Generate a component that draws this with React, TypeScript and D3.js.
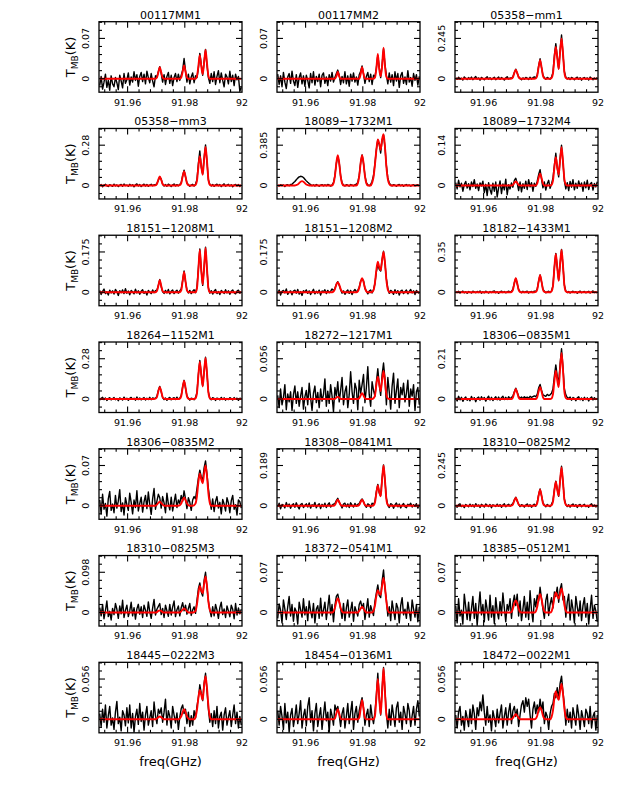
import React from "react";
import * as d3 from "d3";

// ---------- data ----------
const titles = [
  "00117MM1", "00117MM2", "05358−mm1",
  "05358−mm3", "18089−1732M1", "18089−1732M4",
  "18151−1208M1", "18151−1208M2", "18182−1433M1",
  "18264−1152M1", "18272−1217M1", "18306−0835M1",
  "18306−0835M2", "18308−0841M1", "18310−0825M2",
  "18310−0825M3", "18372−0541M1", "18385−0512M1",
  "18445−0222M3", "18454−0136M1", "18472−0022M1",
];
const tickLabels = [
  "0.07", "0.07", "0.245", "0.28", "0.385", "0.14", "0.175", "0.175", "0.35",
  "0.28", "0.056", "0.21", "0.07", "0.189", "0.245", "0.098", "0.07", "0.07",
  "0.056", "0.056", "0.056",
];
const xTickLabels = ["91.96", "91.98", "92"];
const xTickValues = [91.96, 91.98, 92.0];

// channel grid (GHz)
const freqStart = 91.95;
const freqEnd = 92.0;
const nChan = 100;

// observed spectra, mK, one value per channel
const obs1 = [-12,4,-18,-6,8,-15,-3,-20,5,-9,-14,2,-7,-19,6,-4,-16,9,-8,-2,10,-11,3,-6,12,-3,7,-13,4,11,-5,8,-9,13,2,-7,9,-4,-14,5,3,12,21,9,-6,7,-10,4,11,-8,6,-12,2,9,-5,8,-3,6,15,35,14,-6,8,-9,3,10,-7,5,2,18,44,25,6,30,51,24,2,-8,9,-5,12,-10,4,14,-7,10,-3,-14,8,3,-9,13,-5,6,-12,8,-2,4,-22,-15];
const obs2 = [8,-10,5,-14,11,-6,-17,3,9,-8,13,-4,-12,7,-15,2,10,-9,5,-13,6,-3,-16,9,-7,12,-11,4,-5,8,-14,6,10,-8,3,-12,7,-4,11,-6,2,9,15,6,-10,4,-7,12,-9,5,-13,8,-4,10,-6,3,-11,7,13,22,9,-8,4,11,-5,8,-10,6,3,19,40,20,2,24,52,25,6,-9,10,-6,7,-12,12,-4,9,-15,5,11,-8,3,-10,14,-6,2,-13,9,-3,7,-11,4];
const obs3 = [6,-4,9,-2,3,-8,11,2,-5,7,-3,10,-6,4,13,-2,5,-9,8,1,-7,4,12,-3,6,-5,2,9,-6,3,10,-4,7,1,-8,5,12,-2,4,3,12,38,58,33,12,2,-6,5,-3,8,3,-5,9,-2,6,11,4,22,78,121,68,22,6,-4,8,2,-3,9,38,140,213,132,62,175,266,150,42,10,-2,6,-5,8,2,-7,4,9,-4,6,-9,3,7,-3,5,-8,10,1,-6,4,-2,8];
const obs4 = [-4,6,-9,3,8,-2,-7,5,1,-6,9,-3,4,-8,2,7,-5,10,-1,3,-6,8,-2,5,-9,4,11,-3,6,-7,2,9,-4,7,-6,3,8,-2,5,4,14,37,58,44,8,-3,6,-5,9,2,-7,4,10,-3,6,-2,7,20,68,106,60,18,5,-6,3,8,-4,10,40,152,240,128,80,190,282,165,38,9,-3,7,-6,4,9,-2,6,-8,3,11,-5,2,8,-4,5,-9,3,7,-3,6,-7,4];
const obs5 = [3,-6,8,-2,5,-9,4,7,-3,10,12,25,38,55,70,82,88,85,76,60,44,30,18,8,-3,6,-5,9,2,-7,4,8,-4,6,-2,10,3,-6,5,28,95,210,280,218,92,25,4,-5,8,2,-6,9,3,-4,7,12,30,96,220,292,212,95,28,6,-3,10,40,95,210,345,435,392,310,430,485,365,190,72,24,6,-4,8,2,-7,5,10,-3,6,-8,4,9,-2,5,-6,3,7,-4,2,8,-5];
const obs6 = [10,-12,18,-5,8,-20,3,14,-9,6,-15,12,-4,20,-10,5,-18,9,-2,15,-25,4,-35,10,-14,-30,8,-20,12,-40,-8,16,-28,5,-15,22,-32,3,-12,9,-6,18,25,8,-18,12,-22,6,-10,15,-14,20,-5,10,-20,8,-3,15,38,55,22,-8,12,-16,6,18,-10,5,25,70,112,60,30,95,140,80,15,-12,10,-18,14,-6,20,-15,8,-10,16,-4,9,-20,12,-8,18,-14,5,10,-16,7,-5,13];
const obs7 = [8,-10,4,14,-6,2,-12,9,-3,6,-8,12,3,-14,7,-2,10,-6,15,-4,5,-11,8,2,-7,13,-3,6,-9,4,11,-5,3,-12,8,1,-6,10,-2,7,9,30,55,24,2,-5,8,-3,12,-7,4,10,-6,3,9,-4,6,15,52,92,45,10,-3,8,-6,4,11,-2,22,104,188,95,30,110,196,100,20,-4,7,-8,5,12,-6,3,-10,8,2,-5,11,-3,6,-9,4,10,-2,-7,5,9,-4,2];
const obs8 = [-6,10,-12,4,8,-3,14,-9,2,6,-11,5,9,-4,12,-8,3,-14,7,1,10,-5,6,-10,2,13,-7,4,-3,9,-12,6,2,11,-6,8,-2,5,14,7,16,35,46,30,12,-4,6,-9,3,10,-5,8,-10,4,12,2,8,22,48,58,50,16,6,-7,5,10,-3,12,38,90,122,100,92,142,178,125,58,18,-5,8,3,-9,11,-4,7,-12,5,9,-6,2,10,-7,4,12,-3,6,-10,8,1,-5];
const obs9 = [5,-3,8,-7,2,10,-5,4,-9,6,1,-6,9,3,-4,7,-2,11,-8,4,-5,9,2,-7,6,-3,8,12,-4,5,-8,3,10,-2,6,-5,4,9,2,8,26,82,120,74,24,6,-4,8,-2,5,9,-6,3,7,-3,10,6,28,96,150,90,28,8,-5,4,9,-2,12,58,218,338,215,104,248,372,230,62,10,-3,6,-7,4,9,-2,5,-8,3,10,-4,2,7,-5,3,8,-6,4,11,-3,2,-7];
const obs10 = [-8,5,12,-4,7,-10,3,9,-6,1,10,-5,4,-12,8,2,-7,13,-3,6,-9,4,11,-2,5,-8,14,-4,7,-6,3,10,-7,5,-3,12,-5,8,4,6,18,60,88,50,10,-4,7,-9,5,11,-6,4,9,-3,13,-2,6,24,84,130,76,20,5,-8,6,3,-5,10,45,170,268,168,92,196,290,178,50,4,-6,9,5,-10,7,2,-6,11,-3,8,-8,4,-4,9,3,-7,10,-2,6,-9,5,2];
const obs11 = [5,-12,14,-8,2,20,-15,7,-4,10,-16,6,18,-6,10,-10,4,16,-14,3,12,-8,22,2,-16,8,18,-5,9,-12,14,-3,6,28,-10,11,-6,20,4,-18,16,4,24,-4,12,30,-8,10,18,-12,6,38,10,-6,22,14,-15,26,8,20,34,-5,16,45,6,-10,24,12,4,24,42,20,5,34,50,28,-8,30,10,-14,18,36,-6,12,28,-12,16,6,22,-4,8,26,-10,14,4,20,-16,10,16,-8];
const obs12 = [6,-10,14,-4,9,-12,3,11,-7,2,-9,13,-3,7,-14,5,10,-6,12,-2,8,-11,4,15,-5,9,-8,3,12,-4,10,-6,7,14,-3,9,-2,12,2,8,16,38,56,36,14,4,10,2,12,6,10,4,14,8,12,16,12,24,58,76,46,22,18,14,24,18,22,30,52,120,178,118,80,185,262,168,52,22,8,4,10,-6,8,3,-9,6,12,-4,5,-8,9,-3,6,-10,4,11,-5,7,-2,3];
const obs13 = [10,-14,20,-6,4,-18,12,25,-8,3,-12,18,-4,8,28,-10,5,-16,14,2,-8,22,6,-14,10,-3,26,-9,4,15,-11,7,18,-5,24,2,-15,12,30,-6,8,20,14,-4,16,5,-12,22,3,-7,15,-9,6,20,-3,10,4,18,8,26,12,-5,14,6,-8,10,16,12,30,48,62,50,44,66,78,55,30,10,-6,12,-10,8,16,-4,6,-14,11,3,-9,14,5,-12,9,18,-6,2,-16,10,7,-4];
const obs14 = [-5,12,-14,6,3,-10,15,-4,8,-12,4,10,-7,14,-3,-15,6,11,-8,2,9,-6,13,-11,5,-2,16,-9,3,10,-13,7,-4,12,-8,5,14,-6,2,8,10,24,35,16,6,-10,8,12,-5,9,-8,14,3,-6,11,-2,7,10,24,32,20,2,-7,9,4,-9,12,6,20,68,100,60,48,130,192,118,36,2,-8,10,6,-12,4,13,-5,8,-10,3,11,-4,-9,7,2,12,-6,5,-3,10,-11,6];
const obs15 = [4,-9,7,12,-5,3,-11,8,2,-6,10,-4,6,-8,13,-2,5,-10,9,1,-7,11,3,-5,8,-12,6,2,-4,10,-3,7,-9,5,12,-6,4,9,-2,6,14,36,52,28,10,-5,7,2,-8,5,11,-4,6,-9,3,10,-3,22,68,102,60,20,4,-6,8,2,-5,9,30,98,150,102,58,158,240,145,40,8,-5,6,-8,5,11,-3,7,-10,4,8,-6,3,9,-5,2,-9,6,12,-4,5,-7,3];
const obs16 = [12,-8,20,-15,5,28,-10,3,-18,10,-5,22,8,-14,16,-3,30,-12,6,18,-10,4,25,-8,12,-16,9,20,-4,14,-12,18,6,-9,26,2,-14,11,32,-6,8,15,22,-5,10,-12,18,4,-9,20,-6,14,28,-10,7,16,-8,12,24,4,18,-4,10,22,-7,6,14,-2,30,58,72,50,40,78,98,62,28,6,-10,14,-8,20,6,-14,12,25,-5,9,-12,16,4,-10,18,8,-15,22,-6,11,-3,8];
const obs17 = [-10,15,4,-18,22,6,-12,10,28,-6,14,-15,8,2,-20,18,5,-8,24,-4,10,-14,20,3,-9,16,-18,6,12,-10,25,-6,4,18,-12,8,30,-4,14,-16,12,28,32,20,6,-10,16,-14,8,22,-8,4,18,-15,10,2,-6,14,20,8,16,-12,6,24,-8,12,3,-5,20,34,48,30,26,55,74,42,22,-6,10,-14,20,4,-12,16,8,-18,12,26,-4,6,-10,18,2,-14,22,6,-8,14,-16,10];
const obs18 = [12,-18,24,-6,4,-20,32,10,-12,18,-14,6,28,-10,16,-22,8,36,-4,14,-16,22,5,-13,30,-8,12,-19,26,2,-11,19,-5,34,8,-16,14,4,24,-10,16,30,12,32,-6,20,-14,6,28,-8,18,-12,38,4,-16,24,10,30,20,44,24,6,-10,21,32,-5,14,26,8,36,28,44,18,40,50,22,28,-8,18,32,-13,22,6,-18,28,10,-6,20,-14,12,26,-8,16,-20,6,30,-10,13,3,-16];
const obs19 = [8,-10,14,-4,20,-12,5,18,-8,2,-14,10,25,-6,3,-16,12,6,-9,16,-5,20,-12,8,-18,4,14,-7,22,-3,10,-15,6,18,-8,2,12,-10,24,5,-6,14,8,16,-4,10,28,-8,12,4,-12,18,6,-5,9,-14,3,15,20,8,14,-6,10,-10,5,-8,12,2,18,30,48,36,26,50,64,40,14,-4,8,-10,12,-6,18,-12,4,10,-15,6,16,-8,3,12,-10,6,20,-6,10,-12,4,-8];
const obs20 = [12,-8,18,4,-14,22,-5,10,-18,6,15,-10,3,20,-6,8,26,-12,5,14,-9,18,30,-4,12,-16,8,22,-10,4,16,-14,6,24,-2,10,-18,14,5,-8,20,12,18,6,-10,8,16,-12,4,22,-6,10,25,-14,8,18,-4,12,22,30,16,-8,6,14,-10,20,4,-6,10,34,64,28,6,42,72,40,8,-12,14,-8,20,6,-10,16,24,-4,10,-14,18,8,-6,22,12,-10,5,18,-8,14,26,4];
const obs21 = [6,-12,10,18,-8,4,-15,12,2,-10,14,-6,20,8,-14,16,5,24,12,34,10,-8,18,-4,6,-16,12,2,-10,14,-5,8,20,-12,4,16,-8,10,22,-6,12,18,4,14,-10,6,20,26,10,30,18,28,6,-12,14,24,8,20,10,28,12,24,-6,10,4,-14,8,18,22,36,30,44,28,50,60,38,20,-8,14,-4,10,-12,16,4,-8,20,6,-14,12,2,-10,14,8,-6,18,-12,4,10,-15,6];

// fitted model, mK, one value per channel
const fit1 = [0,0,0,0,0,0,0,0,0,0, 0,0,0,0,0,0,0,0,0,0, 0,0,0,0,0,0,0,0,0,0, 0,0,0,0,0,0,0,0,0,0, 2,11,20,11,2,0,0,0,0,0, 0,0,0,0,0,0,0,2,12,23, 12,2,0,0,0,0,0,0,4,22, 41,22,8,27,50,27,5,0,0,0, 0,0,0,0,0,0,0,0,0,0, 0,0,0,0,0,0,0,0,0,0];
const fit2 = [0,0,0,0,0,0,0,0,0,0, 0,0,0,0,0,0,0,0,0,0, 0,0,0,0,0,0,0,0,0,0, 0,0,0,0,0,0,0,0,0,0, 0,4,12,4,0,0,0,0,0,0, 0,0,0,0,0,0,0,0,8,20, 8,0,0,0,0,0,0,0,2,18, 43,16,4,22,54,22,3,0,0,0, 0,0,0,0,0,0,0,0,0,0, 0,0,0,0,0,0,0,0,0,0];
const fit3 = [0,0,0,0,0,0,0,0,0,0, 0,0,0,0,0,0,0,0,0,0, 0,0,0,0,0,0,0,0,0,0, 0,0,0,0,0,0,0,0,0,1, 9,35,55,35,9,1,0,0,0,0, 0,0,0,0,0,0,2,18,72,112, 72,18,2,0,0,0,0,4,31,124, 193,129,58,161,245,157,39,5,0,0, 0,0,0,0,0,0,0,0,0,0, 0,0,0,0,0,0,0,0,0,0];
const fit4 = [0,0,0,0,0,0,0,0,0,0, 0,0,0,0,0,0,0,0,0,0, 0,0,0,0,0,0,0,0,0,0, 0,0,0,0,0,0,0,0,0,1, 10,40,63,40,10,1,0,0,0,0, 0,0,0,0,0,0,2,16,63,98, 63,16,2,0,0,0,0,4,32,130, 203,135,75,176,268,172,43,5,0,0, 0,0,0,0,0,0,0,0,0,0, 0,0,0,0,0,0,0,0,0,0];
const fit5 = [0,0,0,0,0,0,0,0,0,0, 0,0,0,4,10,23,36,42,36,23, 10,4,0,0,0,0,0,0,0,0, 0,0,0,0,0,0,0,0,0,20, 90,214,289,214,90,20,0,0,0,0, 0,0,0,0,0,0,20,90,214,289, 214,90,20,0,0,0,25,80,200,340, 440,400,340,440,490,370,180,60,15,0, 0,0,0,0,0,0,0,0,0,0, 0,0,0,0,0,0,0,0,0,0];
const fit6 = [0,0,0,0,0,0,0,0,0,0, 0,0,0,0,0,0,0,0,0,0, 0,0,0,0,0,0,0,0,0,0, 0,0,0,0,0,0,0,0,0,0, 2,9,14,9,2,0,0,0,0,0, 0,0,0,0,0,0,0,7,27,42, 27,7,0,0,0,0,0,2,16,63, 98,66,37,87,133,85,21,3,0,0, 0,0,0,0,0,0,0,0,0,0, 0,0,0,0,0,0,0,0,0,0];
const fit7 = [0,0,0,0,0,0,0,0,0,0, 0,0,0,0,0,0,0,0,0,0, 0,0,0,0,0,0,0,0,0,0, 0,0,0,0,0,0,0,0,0,0, 5,28,52,28,5,0,0,0,0,0, 0,0,0,0,0,0,0,8,48,88, 48,8,0,0,0,0,0,0,17,99, 184,99,34,104,192,104,17,0,0,0, 0,0,0,0,0,0,0,0,0,0, 0,0,0,0,0,0,0,0,0,0];
const fit8 = [0,0,0,0,0,0,0,0,0,0, 0,0,0,0,0,0,0,0,0,0, 0,0,0,0,0,0,0,0,0,0, 0,0,0,0,0,0,0,0,0,3, 14,33,44,33,14,3,0,0,0,0, 0,0,0,0,0,0,4,19,45,61, 45,19,4,0,0,0,1,9,41,97, 133,109,95,139,175,130,54,12,0,0, 0,0,0,0,0,0,0,0,0,0, 0,0,0,0,0,0,0,0,0,0];
const fit9 = [0,0,0,0,0,0,0,0,0,0, 0,0,0,0,0,0,0,0,0,0, 0,0,0,0,0,0,0,0,0,0, 0,0,0,0,0,0,0,0,0,2, 20,78,122,78,20,2,0,0,0,0, 0,0,0,0,0,0,3,24,94,147, 94,24,3,0,0,0,0,7,53,213, 333,220,100,243,368,236,59,7,0,0, 0,0,0,0,0,0,0,0,0,0, 0,0,0,0,0,0,0,0,0,0];
const fit10 = [0,0,0,0,0,0,0,0,0,0, 0,0,0,0,0,0,0,0,0,0, 0,0,0,0,0,0,0,0,0,0, 0,0,0,0,0,0,0,0,0,2, 13,54,84,54,13,2,0,0,0,0, 0,0,0,0,0,0,3,20,81,126, 81,20,3,0,0,0,0,5,41,165, 258,171,87,188,286,183,46,6,0,0, 0,0,0,0,0,0,0,0,0,0, 0,0,0,0,0,0,0,0,0,0];
const fit11 = [0,0,0,0,0,0,0,0,0,0, 0,0,0,0,0,0,0,0,0,0, 0,0,0,0,0,0,0,0,0,0, 0,0,0,0,0,0,0,0,0,0, 0,2,3,2,0,0,0,0,0,0, 0,0,0,0,0,0,0,1,5,8, 5,1,0,0,0,0,0,1,5,20, 31,21,11,26,39,25,6,1,0,0, 0,0,0,0,0,0,0,0,0,0, 0,0,0,0,0,0,0,0,0,0];
const fit12 = [0,0,0,0,0,0,0,0,0,0, 0,0,0,0,0,0,0,0,0,0, 0,0,0,0,0,0,0,0,0,0, 0,0,0,0,0,0,0,0,0,0, 8,33,52,33,8,0,0,0,0,0, 0,0,0,0,0,0,0,10,40,63, 40,10,0,0,0,0,0,3,24,94, 147,99,62,157,240,154,38,5,0,0, 0,0,0,0,0,0,0,0,0,0, 0,0,0,0,0,0,0,0,0,0];
const fit13 = [0,0,0,0,0,0,0,0,0,0, 0,0,0,0,0,0,0,0,0,0, 0,0,0,0,0,0,0,0,0,0, 0,0,0,0,0,0,0,0,0,0, 2,5,7,5,2,0,0,0,0,0, 0,0,0,0,0,0,1,4,10,14, 10,4,1,0,0,0,1,4,17,41, 56,46,39,56,70,52,22,5,0,0, 0,0,0,0,0,0,0,0,0,0, 0,0,0,0,0,0,0,0,0,0];
const fit14 = [0,0,0,0,0,0,0,0,0,0, 0,0,0,0,0,0,0,0,0,0, 0,0,0,0,0,0,0,0,0,0, 0,0,0,0,0,0,0,0,0,0, 4,18,28,18,4,0,0,0,0,0, 0,0,0,0,0,0,0,4,18,28, 18,4,0,0,0,0,0,2,15,61, 95,65,45,123,189,121,30,4,0,0, 0,0,0,0,0,0,0,0,0,0, 0,0,0,0,0,0,0,0,0,0];
const fit15 = [0,0,0,0,0,0,0,0,0,0, 0,0,0,0,0,0,0,0,0,0, 0,0,0,0,0,0,0,0,0,0, 0,0,0,0,0,0,0,0,0,1, 8,31,49,31,8,1,0,0,0,0, 0,0,0,0,0,0,2,16,63,98, 63,16,2,0,0,0,0,3,24,94, 147,99,61,152,233,149,37,5,0,0, 0,0,0,0,0,0,0,0,0,0, 0,0,0,0,0,0,0,0,0,0];
const fit16 = [0,0,0,0,0,0,0,0,0,0, 0,0,0,0,0,0,0,0,0,0, 0,0,0,0,0,0,0,0,0,0, 0,0,0,0,0,0,0,0,0,0, 1,4,5,4,1,0,0,0,0,0, 0,0,0,0,0,0,0,3,7,10, 7,3,0,0,0,0,1,4,20,47, 65,53,47,69,88,65,27,6,0,0, 0,0,0,0,0,0,0,0,0,0, 0,0,0,0,0,0,0,0,0,0];
const fit17 = [0,0,0,0,0,0,0,0,0,0, 0,0,0,0,0,0,0,0,0,0, 0,0,0,0,0,0,0,0,0,0, 0,0,0,0,0,0,0,0,0,2, 8,19,25,19,8,2,0,0,0,0, 0,0,0,0,0,0,0,3,7,10, 7,3,0,0,0,0,0,3,12,29, 39,33,31,47,60,44,19,4,0,0, 0,0,0,0,0,0,0,0,0,0, 0,0,0,0,0,0,0,0,0,0];
const fit18 = [0,0,0,0,0,0,0,0,0,0, 0,0,0,0,0,0,0,0,0,0, 0,0,0,0,0,0,0,0,0,0, 0,0,0,0,0,0,0,0,0,1, 7,16,21,16,7,1,0,0,0,0, 0,0,0,0,0,0,2,10,24,32, 24,10,2,0,0,0,0,2,11,26, 35,29,24,33,42,31,13,3,0,0, 0,0,0,0,0,0,0,0,0,0, 0,0,0,0,0,0,0,0,0,0];
const fit19 = [0,0,0,0,0,0,0,0,0,0, 0,0,0,0,0,0,0,0,0,0, 0,0,0,0,0,0,0,0,0,0, 0,0,0,0,0,0,0,0,0,0, 1,3,4,3,1,0,0,0,0,0, 0,0,0,0,0,0,1,4,10,14, 10,4,1,0,0,0,0,3,13,30, 41,34,27,47,60,44,19,4,0,0, 0,0,0,0,0,0,0,0,0,0, 0,0,0,0,0,0,0,0,0,0];
const fit20 = [0,0,0,0,0,0,0,0,0,0, 0,0,0,0,0,0,0,0,0,0, 0,0,0,0,0,0,0,0,0,0, 0,0,0,0,0,0,0,0,0,0, 1,8,14,8,1,0,0,0,0,0, 0,0,0,0,0,0,0,2,15,27, 15,2,0,0,0,0,0,0,5,30, 56,30,7,38,71,38,6,0,0,0, 0,0,0,0,0,0,0,0,0,0, 0,0,0,0,0,0,0,0,0,0];
const fit21 = [0,0,0,0,0,0,0,0,0,0, 0,0,0,0,0,0,0,0,0,0, 0,0,0,0,0,0,0,0,0,0, 0,0,0,0,0,0,0,0,0,0, 2,5,7,5,2,0,0,0,0,0, 0,0,0,0,0,0,1,5,13,17, 13,5,1,0,0,0,0,3,12,29, 39,32,27,39,49,36,15,3,0,0, 0,0,0,0,0,0,0,0,0,0, 0,0,0,0,0,0,0,0,0,0];

const observed = [obs1, obs2, obs3, obs4, obs5, obs6, obs7, obs8, obs9, obs10, obs11, obs12, obs13, obs14, obs15, obs16, obs17, obs18, obs19, obs20, obs21];
const fitted = [fit1, fit2, fit3, fit4, fit5, fit6, fit7, fit8, fit9, fit10, fit11, fit12, fit13, fit14, fit15, fit16, fit17, fit18, fit19, fit20, fit21];

// ---------- layout ----------
const WIDTH = 628;
const HEIGHT = 798;
const colLeft = [99, 277, 455];
const panelW = 143;
const rowTop0 = 21.7;
const rowStep = 106.77;
const panelH = 70.5;
const FONT = "DejaVu Sans, Verdana, sans-serif";

const freqs = d3.range(nChan).map((i) => freqStart + ((i + 0.5) * (freqEnd - freqStart)) / nChan);
const minorX = d3.range(12).map((k) => 91.952 + k * 0.004).filter((f) => Math.abs(f - 91.96) > 1e-6 && Math.abs(f - 91.98) > 1e-6);
const minorYFactors = [-0.2, 0.2, 0.4, 0.6, 0.8, 1.2, 1.4];

function Panel({ idx }: { idx: number }) {
  const col = idx % 3;
  const row = Math.floor(idx / 3);
  const left = colLeft[col];
  const top = rowTop0 + row * rowStep;
  const right = left + panelW;
  const bottom = top + panelH;
  const t = parseFloat(tickLabels[idx]);
  const x = d3.scaleLinear().domain([freqStart, freqEnd]).range([left, right]);
  const y = d3.scaleLinear().domain([-0.335 * t, 1.415 * t]).range([bottom, top]);
  const obsPts = observed[idx].map((v, i) => [freqs[i], v / 1000] as [number, number]);
  const fitPts = fitted[idx].map((v, i) => [freqs[i], v / 1000] as [number, number]);
  const obsLine = d3.line<[number, number]>().x((d) => x(d[0])).y((d) => y(d[1])).curve(d3.curveLinear);
  const fitLine = d3.line<[number, number]>().x((d) => x(d[0])).y((d) => y(d[1])).curve(d3.curveMonotoneX);
  const clipId = `clip${idx}`;
  const MAJ = 6;
  const MIN = 3;
  const ticks: JSX.Element[] = [];
  minorX.forEach((f, k) => {
    const px = x(f);
    ticks.push(<line key={`mxb${k}`} x1={px} x2={px} y1={bottom} y2={bottom - MIN} />);
    ticks.push(<line key={`mxt${k}`} x1={px} x2={px} y1={top} y2={top + MIN} />);
  });
  [91.96, 91.98].forEach((f, k) => {
    const px = x(f);
    ticks.push(<line key={`Mxb${k}`} x1={px} x2={px} y1={bottom} y2={bottom - MAJ} />);
    ticks.push(<line key={`Mxt${k}`} x1={px} x2={px} y1={top} y2={top + MAJ} />);
  });
  minorYFactors.forEach((m, k) => {
    const py = y(m * t);
    ticks.push(<line key={`myl${k}`} x1={left} x2={left + MIN} y1={py} y2={py} />);
    ticks.push(<line key={`myr${k}`} x1={right} x2={right - MIN} y1={py} y2={py} />);
  });
  [0, t].forEach((v, k) => {
    const py = y(v);
    ticks.push(<line key={`Myl${k}`} x1={left} x2={left + MAJ} y1={py} y2={py} />);
    ticks.push(<line key={`Myr${k}`} x1={right} x2={right - MAJ} y1={py} y2={py} />);
  });
  return (
    <g>
      <defs>
        <clipPath id={clipId}>
          <rect x={left} y={top} width={panelW} height={panelH} />
        </clipPath>
      </defs>
      <text x={(left + right) / 2} y={top - 3.2} textAnchor="middle" fontSize={11} fontFamily={FONT} fill="#000">
        {titles[idx]}
      </text>
      <g clipPath={`url(#${clipId})`}>
        <path d={obsLine(obsPts) || ""} fill="none" stroke="#000" strokeWidth={1.4} strokeLinejoin="round" />
        <path d={fitLine(fitPts) || ""} fill="none" stroke="#ff0000" strokeWidth={1.9} />
      </g>
      <rect x={left} y={top} width={panelW} height={panelH} fill="none" stroke="#000" strokeWidth={1.3} />
      <g stroke="#000" strokeWidth={1.1}>{ticks}</g>
      {xTickValues.map((v, k) => (
        <text key={`xl${k}`} x={x(v)} y={bottom + 13.3} textAnchor="middle" fontSize={9.5} fontFamily={FONT} fill="#000">
          {xTickLabels[k]}
        </text>
      ))}
      {[0, t].map((v, k) => (
        <text
          key={`yl${k}`}
          transform={`translate(${left - 10.5},${y(v)}) rotate(-90)`}
          textAnchor="middle"
          fontSize={9.5}
          fontFamily={FONT}
          fill="#000"
        >
          {k === 0 ? "0" : tickLabels[idx]}
        </text>
      ))}
      {col === 0 && (
        <text
          transform={`translate(${left - 24.5},${(top + bottom) / 2}) rotate(-90)`}
          textAnchor="middle"
          fontSize={13}
          fontFamily={FONT}
          fill="#000"
        >
          T
          <tspan fontSize={9} dy={3}>MB</tspan>
          <tspan dy={-3}>(K)</tspan>
        </text>
      )}
      {row === 6 && (
        <text x={(left + right) / 2} y={bottom + 33} textAnchor="middle" fontSize={13} fontFamily={FONT} fill="#000">
          freq(GHz)
        </text>
      )}
    </g>
  );
}

export default function App() {
  return (
    <svg
      width={WIDTH}
      height={HEIGHT}
      viewBox={`0 0 ${WIDTH} ${HEIGHT}`}
      style={{ position: "absolute", left: 0, top: 0, background: "#fff" }}
    >
      <rect x={0} y={0} width={WIDTH} height={HEIGHT} fill="#fff" />
      {titles.map((_, i) => (
        <Panel key={i} idx={i} />
      ))}
    </svg>
  );
}
